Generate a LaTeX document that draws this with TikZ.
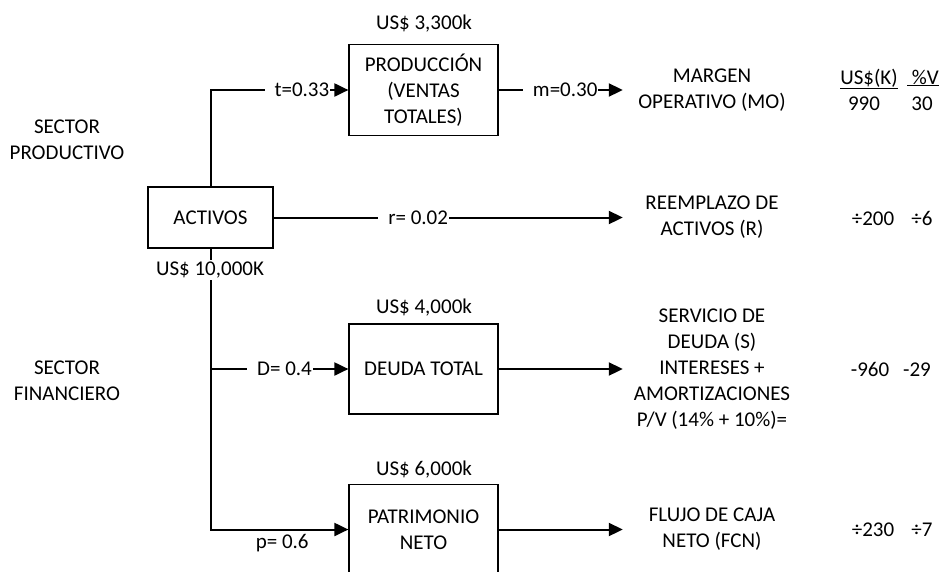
\documentclass[tikz,border=0pt]{standalone}
\usepackage{fontspec}
\setmainfont{Carlito}
\usetikzlibrary{arrows.meta}
\begin{document}
\begin{tikzpicture}[x=1pt,y=-1pt,
 every node/.style={font=\fontsize{21}{26}\selectfont, inner sep=0pt},
 box/.style={draw, line width=1.2pt, align=center},
 conn/.style={line width=2pt},
 arr/.style={conn, -{Triangle[length=14pt,width=13pt]}},
 lbl/.style={fill=white, inner xsep=1pt, inner ysep=2pt},
 res/.style={minimum width=178pt, align=center},
 val/.style={anchor=base},
]
\useasboundingbox (0,0) rectangle (941,571);
\clip (0,0) rectangle (941,571);
% boxes
\node[box, minimum width=125pt, minimum height=61pt] (act) at (210.5,217.5) {ACTIVOS};
\node[box, minimum width=149pt, minimum height=91pt] (prod) at (423.5,90) {PRODUCCIÓN\\(VENTAS\\TOTALES)};
\node[box, minimum width=149pt, minimum height=90pt] (deuda) at (423.5,369) {DEUDA TOTAL};
\node[box, minimum width=149pt, minimum height=90pt] (pat) at (423.5,529.5) {PATRIMONIO\\NETO};
% results
\node[res] (mo) at (712,90) {MARGEN\\OPERATIVO (MO)};
\node[res] (rep) at (712,217.5) {REEMPLAZO DE\\ACTIVOS (R)};
\node[res] (serv) at (712,369) {SERVICIO DE\\DEUDA (S)\\INTERESES +\\AMORTIZACIONES\\P/V (14\% + 10\%)=};
\node[res] (fcn) at (712,529.5) {FLUJO DE CAJA\\NETO (FCN)};
% sectors
\node[align=center] (sp) at (67,140) {SECTOR\\PRODUCTIVO};
\node[align=center] (sf) at (67,381) {SECTOR\\FINANCIERO};
% amounts
\node (v1) at (424,24) {US\$ 3,300k};
\node (v2) at (424,308) {US\$ 4,000k};
\node (v3) at (424,470) {US\$ 6,000k};
% table
\node[val] (h1) at (869,84) {\underline{US\$(K)}};
\node[val] (h2) at (923,84) {\underline{\ \%V}};
\node[val] (a1) at (864,110) {990};
\node[val] (a2) at (922,110) {30};
\node[val] (b1) at (873,225) {÷200};
\node[val] (b2) at (922,225) {÷6};
\node[val] (c1) at (870,376) {-960};
\node[val] (c2) at (917,376) {-29};
\node[val] (d1) at (873,536) {÷230};
\node[val] (d2) at (922,536) {÷7};
% connectors
\draw[arr] (act.north) |- node[lbl, pos=0.815] {\hspace*{9pt}t=0.33} (prod.west);
\draw[arr] (prod.east) -- node[lbl, pos=0.5] {\hspace*{9pt}m=0.30} (mo.west);
\draw[arr] (act.east) -- node[lbl, pos=0.401] {\hspace*{9pt}r= 0.02} (rep.west);
\draw[arr] (act.south) |- node[below=4pt, pos=0.76] {p= 0.6} (pat.west);
\draw[arr] (act.south |- deuda.west) -- node[lbl, pos=0.504] {\hspace*{9pt}D= 0.4} (deuda.west);
\draw[arr] (deuda.east) -- (serv.west);
\draw[arr] (pat.east) -- (fcn.west);
\node[lbl, inner xsep=3pt] (tot) at (210,270) {US\$ 10,000K};
\end{tikzpicture}
\end{document}
